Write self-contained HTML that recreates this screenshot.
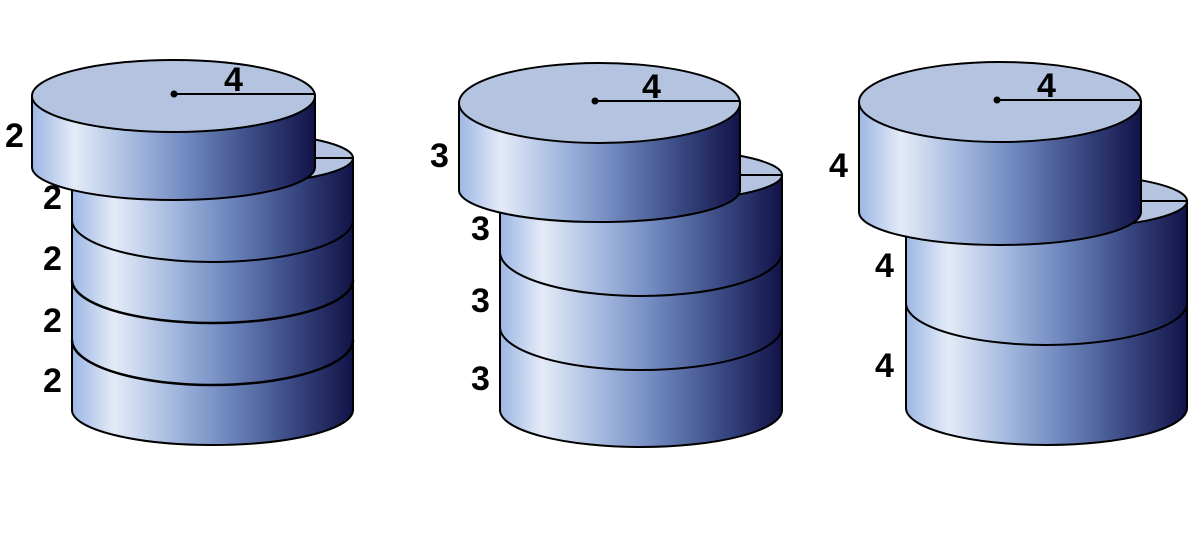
<!DOCTYPE html>
<html><head><meta charset="utf-8"><style>
html,body{margin:0;padding:0;background:#fff;}
svg{display:block}
text{font-family:"Liberation Sans",sans-serif;font-size:34px;font-weight:bold;fill:#000;}
</style></head><body>
<svg width="1200" height="545" viewBox="0 0 1200 545" xmlns="http://www.w3.org/2000/svg">
<defs>
<linearGradient id="g" x1="0" y1="0" x2="1" y2="0">
<stop offset="0" stop-color="#9cb6e4"/>
<stop offset="0.15" stop-color="#e4ebf7"/>
<stop offset="0.35" stop-color="#a6bbe0"/>
<stop offset="0.55" stop-color="#6f88bf"/>
<stop offset="0.8" stop-color="#37457f"/>
<stop offset="1" stop-color="#111347"/>
</linearGradient>
</defs>
<g stroke="#000" stroke-width="2">
<!-- Stack 1 -->
<path d="M72,158 L72,410 A140.5,35 0 0 0 353,410 L353,158 Z" fill="url(#g)"/>
<path d="M72,220 A140.5,42 0 0 0 353,220" fill="none"/>
<path d="M72,280 A140.5,43 0 0 0 353,280" fill="none" stroke-width="2.5"/>
<path d="M72,340 A140.5,45 0 0 0 353,340" fill="none" stroke-width="2.5"/>
<ellipse cx="212.5" cy="158" rx="140.5" ry="27" fill="#b4c4e0"/>
<line x1="212" y1="158" x2="353" y2="158"/>
<path d="M32,96 L32,167 A141.5,33 0 0 0 315,167 L315,96 Z" fill="url(#g)"/>
<ellipse cx="173.5" cy="96" rx="141.5" ry="36" fill="#b4c4e0"/>
<line x1="174" y1="94" x2="315" y2="94"/>
<!-- Stack 2 -->
<path d="M500,175 L500,410 A141,37 0 0 0 782,410 L782,175 Z" fill="url(#g)"/>
<path d="M500,252 A141,44 0 0 0 782,252" fill="none"/>
<path d="M500,327 A141,43 0 0 0 782,327" fill="none"/>
<ellipse cx="641" cy="175" rx="141" ry="27" fill="#b4c4e0"/>
<line x1="641" y1="175" x2="782" y2="175"/>
<path d="M459,103 L459,190 A140.5,32 0 0 0 740,190 L740,103 Z" fill="url(#g)"/>
<ellipse cx="599.5" cy="103" rx="140.5" ry="40" fill="#b4c4e0"/>
<line x1="595" y1="101" x2="740" y2="101"/>
<!-- Stack 3 -->
<path d="M906,201 L906,408 A140.5,37 0 0 0 1187,408 L1187,201 Z" fill="url(#g)"/>
<path d="M906,303 A140.5,42 0 0 0 1187,303" fill="none"/>
<ellipse cx="1046.5" cy="201" rx="140.5" ry="28" fill="#b4c4e0"/>
<line x1="1046" y1="201" x2="1187" y2="201"/>
<path d="M859,102 L859,212 A141,33 0 0 0 1141,212 L1141,102 Z" fill="url(#g)"/>
<ellipse cx="1000" cy="102" rx="141" ry="40" fill="#b4c4e0"/>
<line x1="997" y1="100" x2="1141" y2="100"/>
</g>
<circle cx="174" cy="94" r="3.5"/>
<circle cx="595" cy="101" r="3.5"/>
<circle cx="997" cy="100" r="3.5"/>
<text x="224" y="91">4</text>
<text x="642" y="98">4</text>
<text x="1037" y="97">4</text>
<text x="5" y="147">2</text>
<text x="43" y="209">2</text>
<text x="43" y="270">2</text>
<text x="43" y="332">2</text>
<text x="43" y="392">2</text>
<text x="430" y="167">3</text>
<text x="471" y="240">3</text>
<text x="471" y="312">3</text>
<text x="471" y="390">3</text>
<text x="829" y="177">4</text>
<text x="875" y="277">4</text>
<text x="875" y="377">4</text>
</svg>
</body></html>
